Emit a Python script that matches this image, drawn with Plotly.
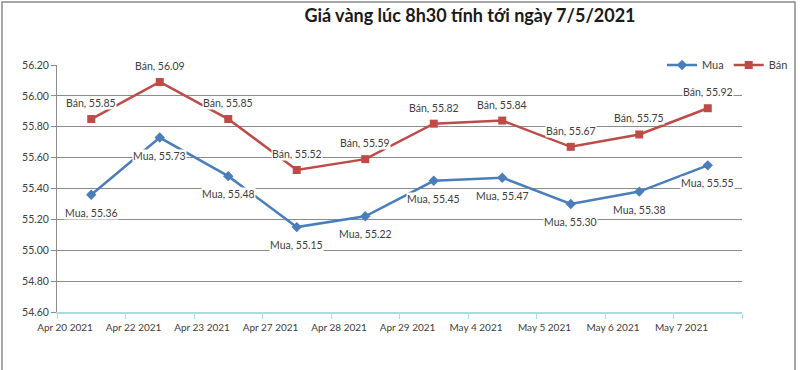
import plotly.graph_objects as go

title_text = "Giá vàng lúc 8h30 tính tới ngày 7/5/2021"
dates = ["Apr 20 2021", "Apr 22 2021", "Apr 23 2021", "Apr 27 2021", "Apr 28 2021",
         "Apr 29 2021", "May 4 2021", "May 5 2021", "May 6 2021", "May 7 2021"]
mua = [55.36, 55.73, 55.48, 55.15, 55.22, 55.45, 55.47, 55.30, 55.38, 55.55]
ban = [55.85, 56.09, 55.85, 55.52, 55.59, 55.82, 55.84, 55.67, 55.75, 55.92]
y_ticks = [54.60, 54.80, 55.00, 55.20, 55.40, 55.60, 55.80, 56.00, 56.20]

BLUE = "#4a7ebb"
RED = "#be4b48"
FONT = "Lato"
TXT = "#404040"

W, H = 800, 370
L, R, T, B = 57, 58, 65, 58

x_idx = list(range(len(dates)))

fig = go.Figure()
fig.add_trace(go.Scatter(
    x=x_idx, y=mua, name="Mua", mode="lines+markers",
    line=dict(color=BLUE, width=2.5),
    marker=dict(symbol="diamond", size=8, color=BLUE),
))
fig.add_trace(go.Scatter(
    x=x_idx, y=ban, name="Bán", mode="lines+markers",
    line=dict(color=RED, width=2.5),
    marker=dict(symbol="square", size=8, color=RED),
))

annotations = []
for i, v in zip(x_idx, mua):
    annotations.append(dict(x=i, y=v, xref="x", yref="y", text=f"Mua, {v:.2f}",
                            showarrow=False, yshift=-18, bgcolor="white", borderpad=0,
                            font=dict(family=FONT, size=10.5, color=TXT)))
for i, v in zip(x_idx, ban):
    annotations.append(dict(x=i, y=v, xref="x", yref="y", text=f"Bán, {v:.2f}",
                            showarrow=False, yshift=16, bgcolor="white", borderpad=0,
                            font=dict(family=FONT, size=10.5, color=TXT)))

pw = W - L - R
ph = H - T - B
fig.add_shape(type="rect", xref="paper", yref="paper",
              x0=(2 - L) / pw, x1=(795 - L) / pw,
              y0=-(H + 6 - T - ph) / ph, y1=1 + (T - 2) / ph,
              line=dict(color="#8a8a8a", width=1.5), layer="below")

tickvals_x = [i - 0.5 for i in range(len(dates) + 1)]
ticktext_x = dates + [""]

fig.update_layout(
    width=W, height=H,
    margin=dict(l=L, r=R, t=T, b=B, autoexpand=False),
    paper_bgcolor="white", plot_bgcolor="white",
    font=dict(family=FONT, size=11, color=TXT),
    title=dict(text=f"<b>{title_text}</b>", xref="container", yref="container",
               x=470 / W, xanchor="center", y=1 - 16 / H, yanchor="middle",
               font=dict(family=FONT, size=18, color="#1a1a1a")),
    showlegend=True,
    legend=dict(orientation="h", xref="container", yref="container",
                x=662 / W, xanchor="left", y=1 - 65 / H, yanchor="middle",
                font=dict(family=FONT, size=11, color=TXT),
                bgcolor="rgba(0,0,0,0)", itemwidth=30, tracegroupgap=0),
    xaxis=dict(range=[-0.5, len(dates) - 0.5], tickmode="array",
               tickvals=tickvals_x, ticktext=ticktext_x, ticklabelshift=8,
               showgrid=False, zeroline=False,
               showline=True, linecolor="#a8dbe3", linewidth=1.5,
               ticks="outside", ticklen=5, tickcolor="#a8dbe3",
               tickfont=dict(family=FONT, size=10, color=TXT)),
    yaxis=dict(range=[54.6, 56.2], tickmode="array", tickvals=y_ticks,
               ticktext=[f"{v:.2f}" for v in y_ticks],
               showgrid=True, gridcolor="#8c8c8c", gridwidth=1, zeroline=False,
               showline=True, linecolor="#8c8c8c", linewidth=1,
               ticks="outside", ticklen=5, tickcolor="#8c8c8c",
               tickfont=dict(family=FONT, size=10.5, color=TXT)),
    annotations=annotations,
)

fig.write_html("out.html", config={"displayModeBar": False},
               post_script="document.body.style.margin='0';")
